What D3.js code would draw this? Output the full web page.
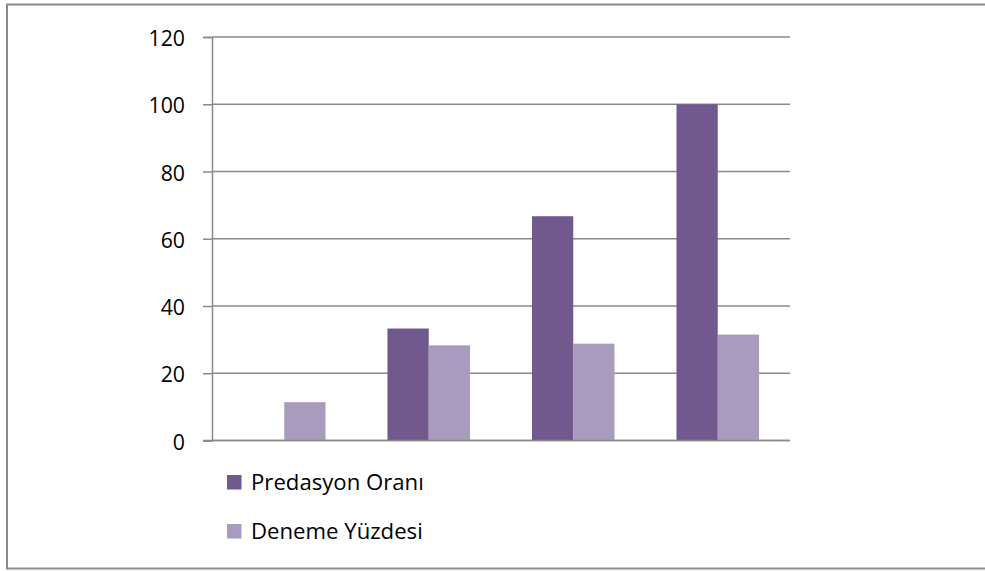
<!DOCTYPE html>
<html><head><meta charset="utf-8">
<script src="https://cdn.jsdelivr.net/npm/d3@7"></script>
<style>body{margin:0;background:#fff}svg{display:block}</style>
</head><body>
<svg id="c" width="985" height="571"></svg>
<script>
const categories = ["1", "2", "3", "4"];
const seriesNames = ["Predasyon Oranı", "Deneme Yüzdesi"];
const predasyon = [0, 33.3, 66.7, 100];
const deneme = [11.4, 28.3, 28.8, 31.5];
const yTicks = [0, 20, 40, 60, 80, 100, 120];
const colors = ["#71598E", "#A99BBE"];

const svg = d3.select("#c");
const font = "'Open Sans', 'Noto Sans', sans-serif";

// fit font size to a target width
function fitSize(txt, target) {
  const t = svg.append("text").attr("font-family", font).attr("font-size", 20).text(txt);
  const w = t.node().getComputedTextLength();
  t.remove();
  return 20 * target / w;
}
const tickSize = fitSize("120", 36.5);
const legSize = fitSize(seriesNames[0], 173);

// outer frame
svg.append("rect").attr("x", 7).attr("y", 4.5).attr("width", 990).attr("height", 564)
  .attr("fill", "none").attr("stroke", "#8a8a8a").attr("stroke-width", 2);

const x0 = 212, x1 = 790;
const y = d3.scaleLinear().domain([0, 120]).range([440.5, 37]);
const xb = d3.scaleBand().domain(categories).range([x0, x1]).paddingInner(0).paddingOuter(0);
const bw = xb.bandwidth() / 3.5;

const yAxis = d3.axisLeft(y).tickValues(yTicks).tickSize(9).tickFormat(d3.format("d"));
const ga = svg.append("g").attr("transform", `translate(${x0},0)`).call(yAxis);
ga.select(".domain").attr("stroke", "#8a8a8a").attr("stroke-width", 1.5);
ga.selectAll(".tick line").attr("stroke", "#8a8a8a").attr("stroke-width", 1.5);
ga.selectAll(".tick text").attr("x", -27).attr("dy", "0.4em")
  .attr("font-family", font).attr("font-size", tickSize).attr("fill", "#000");

svg.append("g").selectAll("line").data(yTicks).join("line")
  .attr("x1", x0).attr("x2", x1).attr("y1", d => y(d)).attr("y2", d => y(d))
  .attr("stroke", "#8a8a8a").attr("stroke-width", 1.5);

const series = [predasyon, deneme];
series.forEach((vals, si) => {
  svg.append("g").selectAll("rect").data(categories).join("rect")
    .attr("x", (c) => xb(c) + xb.bandwidth() / 2 - bw + si * bw)
    .attr("width", bw)
    .attr("y", (c, i) => y(vals[i]))
    .attr("height", (c, i) => y(0) - y(vals[i]))
    .attr("fill", colors[si]);
});

svg.append("line").attr("x1", x0 - 9).attr("x2", x1).attr("y1", y(0)).attr("y2", y(0))
  .attr("stroke", "#8a8a8a").attr("stroke-width", 1.5);

// legend
const lg = svg.append("g");
seriesNames.forEach((n, i) => {
  const ly = 475 + i * 49;
  lg.append("rect").attr("x", 227).attr("y", ly).attr("width", 14.5).attr("height", 14.5).attr("fill", colors[i]);
  lg.append("text").attr("x", 251).attr("y", ly + 15)
    .attr("font-family", font).attr("font-size", legSize).attr("fill", "#000").text(n);
});
</script>
</body></html>
